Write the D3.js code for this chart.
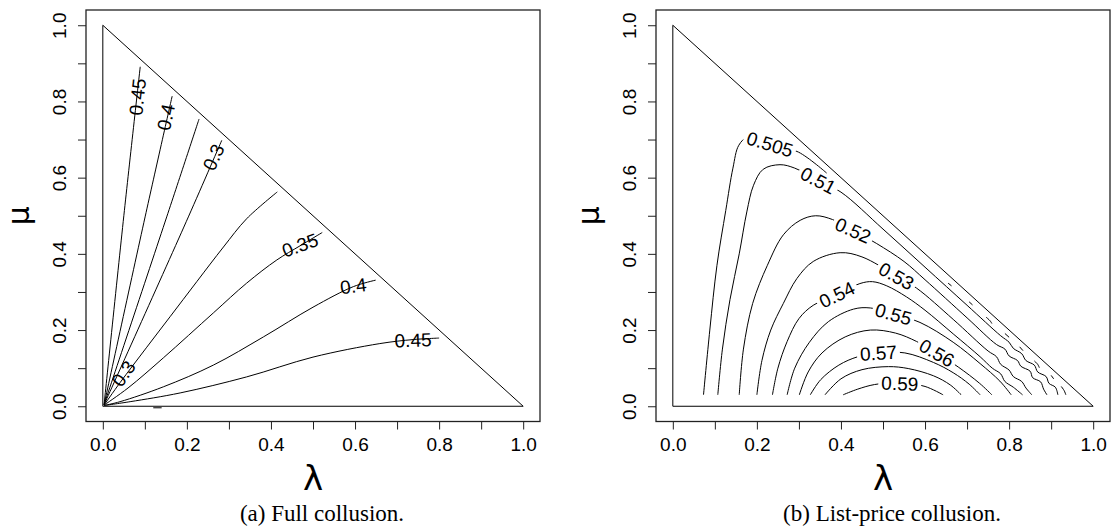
<!DOCTYPE html>
<html>
<head>
<meta charset="utf-8">
<script src="https://cdn.jsdelivr.net/npm/d3@7"></script>
<style>
  body { margin: 0; background: #fff; }
  svg { display: block; }
  .tick text { font-family: "Liberation Sans", Arial, sans-serif; font-size: 19px; fill: #000; }
  .tick line { stroke: #222; }
</style>
</head>
<body>
<svg id="chart" width="1113" height="531"></svg>
<script>
// axis ticks (every 0.1, labels on every other one)
const ticks = d3.range(0, 11).map(i => i / 10);
const simplex = [[0, 0], [1, 0], [0, 1], [0, 0]];

// (a) full collusion - contour lines as [lambda, mu]
const fullUp45 = [[0.003, 0.004], [0.05, 0.5], [0.089, 0.891]];
const fullUp40 = [[0.003, 0.004], [0.1006, 0.497], [0.165, 0.814]];
const fullUp35 = [[0.003, 0.004], [0.152, 0.497], [0.229, 0.754]];
const fullUp30 = [[0.003, 0.004], [0.2035, 0.497], [0.283, 0.698]];
const fullLow30 = [[0.003, 0.003], [0.041, 0.062], [0.1046, 0.155], [0.16, 0.235], [0.2235, 0.327], [0.287, 0.418], [0.342, 0.492], [0.415, 0.5625]];
const fullLow35 = [[0.003, 0.003], [0.06, 0.048], [0.144, 0.127], [0.263, 0.245], [0.342, 0.323], [0.414, 0.384], [0.469, 0.421], [0.522, 0.456]];
const fullLow40 = [[0.003, 0.002], [0.041, 0.012], [0.144, 0.051], [0.263, 0.108], [0.382, 0.182], [0.5, 0.26], [0.596, 0.314], [0.649, 0.331]];
const fullLow45 = [[0.003, 0.002], [0.065, 0.012], [0.184, 0.035], [0.342, 0.077], [0.5, 0.129], [0.659, 0.1645], [0.738, 0.175], [0.8, 0.179]];
const fullDash = [[0.12, -0.004], [0.14, -0.004]];

const fullLines = [
  { level: "0.45", pts: fullUp45 }, { level: "0.4", pts: fullUp40 },
  { level: "0.35", pts: fullUp35 }, { level: "0.3", pts: fullUp30 },
  { level: "0.3", pts: fullLow30 }, { level: "0.35", pts: fullLow35 },
  { level: "0.4", pts: fullLow40 }, { level: "0.45", pts: fullLow45 },
  { level: "0.45", pts: fullDash }
];
const fullLabels = [
  { text: "0.45", at: [0.082, 0.812], angle: -84 },
  { text: "0.4", at: [0.15, 0.759], angle: -78 },
  { text: "0.3", at: [0.263, 0.654], angle: -66 },
  { text: "0.3", at: [0.049, 0.086], angle: -55 },
  { text: "0.35", at: [0.469, 0.423], angle: -20 },
  { text: "0.4", at: [0.596, 0.316], angle: -7 },
  { text: "0.45", at: [0.738, 0.174], angle: -2 }
];

// (b) list-price collusion
const list505 = [[0.073, 0.03], [0.088, 0.2], [0.105, 0.37], [0.126, 0.514], [0.143, 0.625], [0.157, 0.685], [0.178, 0.706], [0.231, 0.69], [0.299, 0.667], [0.366, 0.612]];
const list505frag = [
  [[0.655, 0.323], [0.663, 0.316]],
  [[0.705, 0.274], [0.713, 0.266]],
  [[0.745, 0.234], [0.755, 0.224], [0.759, 0.217]],
  [[0.79, 0.191], [0.8, 0.181]],
  [[0.825, 0.156], [0.833, 0.146]],
  [[0.86, 0.119], [0.868, 0.11], [0.872, 0.101]],
  [[0.9, 0.081], [0.906, 0.072]],
  [[0.924, 0.052], [0.931, 0.041], [0.935, 0.03]]
];
const list51 = [[0.107, 0.03], [0.118, 0.15], [0.136, 0.28], [0.158, 0.4], [0.176, 0.51], [0.192, 0.58], [0.215, 0.622], [0.255, 0.634], [0.29, 0.625], [0.346, 0.593], [0.4, 0.562], [0.5, 0.465], [0.6, 0.365], [0.7, 0.265], [0.78, 0.185], [0.8, 0.168], [0.81, 0.152], [0.83, 0.138], [0.84, 0.12], [0.86, 0.108], [0.868, 0.09], [0.888, 0.078], [0.895, 0.06], [0.91, 0.05], [0.916, 0.03]];
const list52 = [[0.158, 0.03], [0.168, 0.15], [0.19, 0.27], [0.225, 0.37], [0.263, 0.45], [0.303, 0.488], [0.34, 0.5], [0.38, 0.49], [0.429, 0.462], [0.485, 0.427], [0.55, 0.38], [0.6, 0.332], [0.7, 0.232], [0.77, 0.162], [0.79, 0.15], [0.8, 0.132], [0.82, 0.12], [0.828, 0.105], [0.85, 0.092], [0.856, 0.075], [0.875, 0.064], [0.882, 0.045], [0.89, 0.03]];
const list53 = [[0.2, 0.03], [0.212, 0.12], [0.233, 0.2], [0.263, 0.27], [0.295, 0.335], [0.334, 0.38], [0.398, 0.403], [0.45, 0.392], [0.532, 0.342], [0.58, 0.31], [0.667, 0.228], [0.75, 0.145], [0.77, 0.13], [0.78, 0.11], [0.8, 0.095], [0.81, 0.078], [0.83, 0.065], [0.84, 0.048], [0.854, 0.03]];
const list54 = [[0.237, 0.03], [0.25, 0.1], [0.272, 0.17], [0.3, 0.23], [0.334, 0.265], [0.39, 0.293], [0.445, 0.322], [0.475, 0.327], [0.509, 0.316], [0.556, 0.287], [0.6, 0.252], [0.667, 0.19], [0.731, 0.13], [0.76, 0.1], [0.78, 0.085], [0.79, 0.065], [0.81, 0.05], [0.832, 0.03]];
const list55 = [[0.272, 0.03], [0.29, 0.1], [0.325, 0.168], [0.37, 0.222], [0.43, 0.255], [0.47, 0.258], [0.525, 0.242], [0.588, 0.22], [0.667, 0.168], [0.731, 0.112], [0.778, 0.066], [0.805, 0.03]];
const list56 = [[0.301, 0.03], [0.322, 0.09], [0.355, 0.14], [0.41, 0.182], [0.47, 0.2], [0.53, 0.192], [0.58, 0.17], [0.628, 0.14], [0.679, 0.103], [0.73, 0.06], [0.759, 0.03]];
const list57 = [[0.327, 0.03], [0.352, 0.07], [0.395, 0.108], [0.44, 0.13], [0.489, 0.14], [0.552, 0.14], [0.62, 0.115], [0.667, 0.088], [0.705, 0.058], [0.731, 0.03]];
const list58 = [[0.362, 0.03], [0.4, 0.072], [0.45, 0.096], [0.513, 0.104], [0.56, 0.099], [0.62, 0.08], [0.66, 0.056], [0.686, 0.03]];
const list59 = [[0.405, 0.03], [0.44, 0.045], [0.48, 0.057], [0.54, 0.062], [0.6, 0.052], [0.643, 0.03]];

const listLines = [
  { level: "0.505", pts: list505 }, { level: "0.51", pts: list51 },
  { level: "0.52", pts: list52 }, { level: "0.53", pts: list53 },
  { level: "0.54", pts: list54 }, { level: "0.55", pts: list55 },
  { level: "0.56", pts: list56 }, { level: "0.57", pts: list57 },
  { level: "0.58", pts: list58 }, { level: "0.59", pts: list59 }
].concat(list505frag.map(p => ({ level: "0.505f", pts: p })));
const listLabels = [
  { text: "0.505", at: [0.231, 0.688], angle: 17 },
  { text: "0.51", at: [0.346, 0.593], angle: 28 },
  { text: "0.52", at: [0.429, 0.462], angle: 24 },
  { text: "0.53", at: [0.532, 0.342], angle: 29 },
  { text: "0.54", at: [0.39, 0.293], angle: -26 },
  { text: "0.55", at: [0.525, 0.242], angle: 16 },
  { text: "0.56", at: [0.628, 0.14], angle: 30 },
  { text: "0.57", at: [0.489, 0.14], angle: -4 },
  { text: "0.59", at: [0.54, 0.06], angle: 2 }
];

const svg = d3.select("#chart");
const W = 1113, H = 531;
const defs = svg.append("defs");

function drawPanel(left, id, lines, labels, caption, gap) {
  const x = d3.scaleLinear().domain([-0.04, 1.04]).range([left, left + 454]);
  const y = d3.scaleLinear().domain([-0.04, 1.04]).range([421.5, 10]);
  const smooth = d3.line().x(d => x(d[0])).y(d => y(d[1])).curve(d3.curveCatmullRom.alpha(0.5));
  const straight = d3.line().x(d => x(d[0])).y(d => y(d[1]));
  const g = svg.append("g");

  g.append("path")
    .attr("d", straight(simplex))
    .attr("fill", "none")
    .attr("stroke", "#000")
    .attr("stroke-width", 1);

  const lineG = g.append("g");
  const labG = g.append("g");

  const place = d => `translate(${x(d.at[0])},${y(d.at[1])})rotate(${d.angle})`;
  labels.forEach(d => {
    const t = labG.append("text")
      .attr("transform", place(d))
      .attr("text-anchor", "middle")
      .attr("dy", "0.36em")
      .style("font-family", "'Liberation Sans', Arial, sans-serif")
      .style("font-size", "19px")
      .text(d.text);
    d.box = t.node().getBBox();
  });

  lines.forEach((c, i) => {
    const p = lineG.append("path")
      .attr("d", smooth(c.pts))
      .attr("fill", "none")
      .attr("stroke", "#000")
      .attr("stroke-width", 1);
    const own = labels.filter(l => l.text === c.level);
    if (gap && own.length) {
      const m = defs.append("mask")
        .attr("id", `${id}-m${i}`)
        .attr("maskUnits", "userSpaceOnUse")
        .attr("x", 0).attr("y", 0).attr("width", W).attr("height", H);
      m.append("rect").attr("width", W).attr("height", H).attr("fill", "white");
      own.forEach(l => {
        m.append("rect")
          .attr("transform", place(l))
          .attr("x", l.box.x - 3)
          .attr("y", l.box.y + 1)
          .attr("width", l.box.width + 6)
          .attr("height", l.box.height - 2)
          .attr("fill", "black");
      });
      p.attr("mask", `url(#${id}-m${i})`);
    }
  });

  const fmt = d => (Math.round(d * 10) % 2 === 0 ? d3.format(".1f")(d) : "");
  const xAxis = g.append("g")
    .attr("transform", "translate(0,421.5)")
    .call(d3.axisBottom(x).tickValues(ticks).tickSize(8).tickPadding(8).tickSizeOuter(0).tickFormat(fmt));
  xAxis.select(".domain").remove();

  const yAxis = g.append("g")
    .attr("transform", `translate(${left},0)`)
    .call(d3.axisLeft(y).tickValues(ticks).tickSize(8).tickSizeOuter(0).tickFormat(fmt));
  yAxis.select(".domain").remove();
  yAxis.selectAll(".tick text")
    .attr("x", null).attr("dy", null)
    .attr("text-anchor", "middle")
    .attr("transform", "translate(-20,0)rotate(-90)");

  g.append("rect")
    .attr("x", left).attr("y", 10)
    .attr("width", 454).attr("height", 411.5)
    .attr("fill", "none")
    .attr("stroke", "#222")
    .attr("stroke-width", 1.3);

  g.append("text")
    .attr("x", x(0.5)).attr("y", 490)
    .attr("text-anchor", "middle")
    .style("font-family", "'DejaVu Sans', sans-serif")
    .style("font-size", "34px")
    .text("λ");

  g.append("text")
    .attr("transform", `translate(${left - 57},${y(0.5)})rotate(-90)`)
    .attr("text-anchor", "middle")
    .style("font-family", "'DejaVu Sans', sans-serif")
    .style("font-size", "30px")
    .text("μ");

  g.append("text")
    .attr("x", x(0.5) + 9).attr("y", 521)
    .attr("text-anchor", "middle")
    .style("font-family", "'Liberation Serif', serif")
    .style("font-size", "23px")
    .text(caption);
}

drawPanel(86, "full", fullLines, fullLabels, "(a) Full collusion.", false);
drawPanel(656, "list", listLines, listLabels, "(b) List-price collusion.", true);
</script>
</body>
</html>
